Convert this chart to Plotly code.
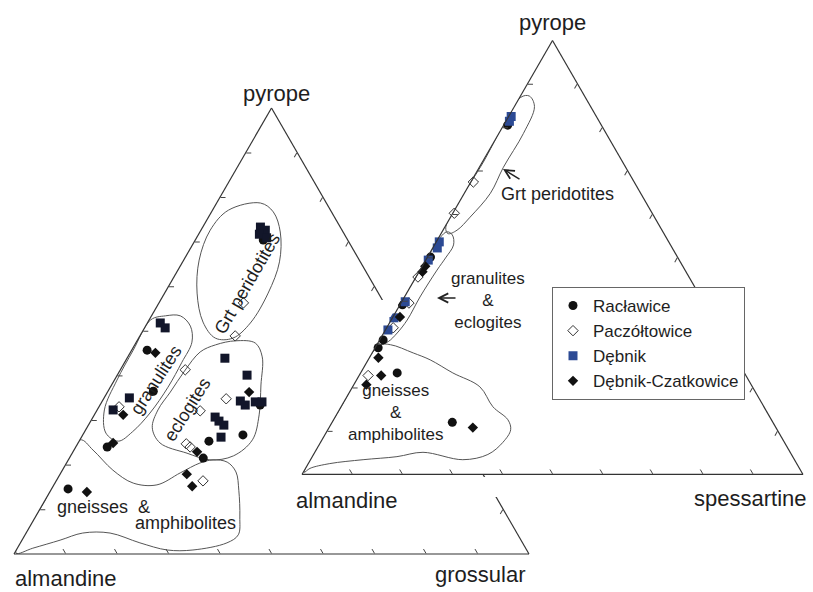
import plotly.graph_objects as go

W, H = 813, 592

# ---------------- data (mol %) ----------------
# Left diagram: pyrope (top) - almandine (left) - grossular (right)
# (only two components given; plotly completes the third from sum=100)
L_rac_prp = [70.4, 45.7, 36.5, 24.0, 25.3, 26.7, 21.5, 33.4, 14.6]
L_rac_grs = [13.2, 3.0, 8.8, 6.1, 25.2, 31.1, 26.0, 31.1, 3.2]
L_pac_prp = [56.3, 48.9, 41.3, 33.0, 34.8, 32.1, 24.0, 24.7, 16.4]
L_pac_grs = [16.4, 18.5, 12.6, 3.9, 23.8, 20.1, 22.2, 21.1, 28.5]
L_deb_prp = [73.3, 72.6, 71.7, 70.9, 51.8, 50.7, 35.0, 32.3, 43.9, 40.1, 34.3, 33.4,
             34.1, 34.1, 30.7, 29.8, 28.9, 26.2]
L_deb_grs = [11.2, 12.5, 11.8, 13.6, 2.5, 4.0, 4.9, 3.1, 19.0, 25.2, 26.8, 28.2,
             29.8, 31.1, 23.7, 24.9, 26.3, 27.1]
L_dc_prp = [45.1, 31.2, 24.9, 36.3, 22.9, 13.9, 17.9, 15.2]
L_dc_grs = [4.9, 5.6, 6.8, 27.5, 24.1, 7.2, 24.6, 27.0]

# Right diagram: pyrope (top) - almandine (left) - spessartine (right)
R_rac_prp = [80.5, 50.1, 39.1, 31.0, 29.2, 23.4, 12.0]
R_rac_sps = [0.8, 0.6, 0.5, 0.7, 0.6, 7.3, 24.0]
R_pac_prp = [67.4, 60.2, 45.5, 39.5, 33.8, 22.8]
R_pac_sps = [0.5, 0.3, 0.4, 1.6, 1.3, 1.8]
R_deb_prp = [82.5, 81.4, 53.6, 52.2, 49.4, 39.8, 36.1, 33.3]
R_deb_sps = [0.5, 0.7, 0.6, 0.9, 0.5, 0.7, 0.3, 0.5]
R_dc_prp = [46.7, 48.0, 36.3, 26.9, 22.8, 20.7, 10.8]
R_dc_sps = [0.7, 0.6, 1.4, 1.8, 4.4, 2.5, 28.7]

# Field outlines (pyrope, grossular/spessartine)
L_peri_prp = [78.7, 76.7, 72.2, 65.5, 58.5, 51.8, 48.4, 48.4, 52.0, 58.5, 65.9, 72.6, 77.1, 78.7]
L_peri_grs = [8.5, 12.0, 15.6, 18.8, 20.1, 20.0, 18.3, 14.9, 10.7, 6.3, 3.0, 1.8, 3.1, 8.5]
L_gran_prp = [52.5, 53.4, 53.4, 51.1, 47.5, 43.0, 37.4, 31.6, 27.4, 25.3, 27.1, 32.3, 39.0, 45.7, 52.5]
L_gran_grs = [0.3, 2.7, 5.6, 8.7, 10.8, 11.1, 11.2, 10.6, 9.3, 7.6, 4.3, 1.4, 0.5, 0.3, 0.3]
L_eclo_prp = [45.3, 46.9, 47.8, 47.3, 44.2, 37.9, 31.2, 25.6, 22.0, 21.1, 22.6, 24.9, 28.3,
              32.3, 36.3, 41.0, 45.3]
L_eclo_grs = [13.5, 15.7, 19.1, 23.2, 26.1, 29.0, 32.0, 33.5, 31.6, 27.5, 22.3, 15.9, 12.7,
              11.8, 12.2, 12.6, 13.5]
L_gneiss_prp = [25.6, 23.3, 18.8, 15.9, 15.5, 18.2, 20.4, 21.1, 20.6, 18.4, 14.3, 8.3, 4.3,
                2.5, 0.9, 0.9, 2.5, 4.7, 4.7, 3.1, 1.3, 0.2, 12.0, 25.6]
L_gneiss_grs = [0.0, 3.7, 9.8, 15.2, 20.0, 23.2, 25.9, 28.1, 31.1, 33.9, 36.5, 39.7, 41.4,
                40.1, 34.3, 29.3, 23.2, 16.3, 11.0, 7.4, 3.0, 0.3, 0.0, 0.0]

R_peri_prp = [86.9, 87.2, 84.8, 78.6, 70.8, 64.8, 59.3, 56.3, 55.5, 57.0, 72.0, 86.9]
R_peri_sps = [0.2, 1.8, 4.0, 4.9, 4.8, 5.2, 3.9, 2.8, 1.4, 0.2, 0.2, 0.2]
R_gran_prp = [55.9, 55.2, 52.9, 49.9, 47.1, 40.9, 35.6, 32.6, 30.6, 29.9, 30.1, 44.8, 55.9]
R_gran_sps = [0.9, 2.4, 3.8, 3.7, 3.4, 3.1, 3.2, 2.7, 1.9, 0.7, 0.0, 0.0, 0.9]
R_gneiss_prp = [29.7, 29.9, 28.0, 26.4, 23.4, 20.2, 15.6, 12.6, 10.3, 7.4, 4.6, 3.4, 5.1,
                4.1, 3.4, 2.5, 1.4, 0.5, 15.0, 29.7]
R_gneiss_sps = [0.6, 2.7, 8.2, 12.4, 18.4, 25.4, 30.3, 34.8, 36.5, 36.4, 34.8, 30.4, 21.6,
                16.9, 10.5, 4.3, 0.9, 0.2, 0.0, 0.6]

SERIES = ["Racławice", "Paczółtowice", "Dębnik", "Dębnik-Czatkowice"]

# ---------------- styling ----------------
FONT = "Liberation Sans, Arial, sans-serif"
TXT = "#1e1e1e"
BLUE = "#2c4a94"


def px(x):
    return x / W


def py(y):
    return 1 - y / H


def marker_style(name, side):
    if name == "Racławice":
        return dict(symbol="circle", size=9, color="#111111")
    if name == "Paczółtowice":
        return dict(symbol="diamond-open", size=8, color="#333333", line=dict(width=1))
    if name == "Dębnik":
        return dict(symbol="square", size=9, color=(BLUE if side == "R" else "#12162a"))
    return dict(symbol="diamond", size=8, color="#111111")


fig = go.Figure()

outline = dict(color="#555555", width=1, shape="spline", smoothing=1)
for prp, oth in [(L_peri_prp, L_peri_grs), (L_gran_prp, L_gran_grs),
                 (L_eclo_prp, L_eclo_grs), (L_gneiss_prp, L_gneiss_grs)]:
    fig.add_trace(go.Scatterternary(a=prp, c=oth, mode="lines", line=outline,
                                    subplot="ternary", showlegend=False, hoverinfo="skip"))
for prp, oth in [(R_peri_prp, R_peri_sps), (R_gran_prp, R_gran_sps),
                 (R_gneiss_prp, R_gneiss_sps)]:
    fig.add_trace(go.Scatterternary(a=prp, c=oth, mode="lines", line=outline,
                                    subplot="ternary2", showlegend=False, hoverinfo="skip"))

left_sets = [(L_rac_prp, L_rac_grs), (L_pac_prp, L_pac_grs), (L_deb_prp, L_deb_grs), (L_dc_prp, L_dc_grs)]
right_sets = [(R_rac_prp, R_rac_sps), (R_pac_prp, R_pac_sps), (R_deb_prp, R_deb_sps), (R_dc_prp, R_dc_sps)]
for name, (prp, oth) in zip(SERIES, left_sets):
    fig.add_trace(go.Scatterternary(a=prp, c=oth, mode="markers", name=name, legendgroup=name,
                                    marker=marker_style(name, "L"), subplot="ternary",
                                    showlegend=False, cliponaxis=False))
for name, (prp, oth) in zip(SERIES, right_sets):
    fig.add_trace(go.Scatterternary(a=prp, c=oth, mode="markers", name=name, legendgroup=name,
                                    marker=marker_style(name, "R"), subplot="ternary2",
                                    showlegend=True, cliponaxis=False))

axis = dict(showgrid=False, showticklabels=False, ticks="inside", ticklen=5, tickwidth=1,
            tickcolor="#444444", tick0=0, dtick=10, linecolor="#333333", linewidth=1.2,
            showline=True, min=0, title=dict(text=""))


def tern(x0, y0, x1, y1):
    return dict(domain=dict(x=[px(x0), px(x1)], y=[py(y1), py(y0)]), sum=100,
                bgcolor="white", aaxis=axis, baxis=axis, caxis=axis)


ann = []


def label(text, x, y, size=18, angle=0, xanchor="center"):
    ann.append(dict(text=text, x=px(x), y=py(y), xref="paper", yref="paper", showarrow=False,
                    font=dict(family=FONT, size=size, color=TXT), textangle=angle,
                    xanchor=xanchor, yanchor="middle", align="center"))


def arrow(hx, hy, tx, ty):
    ann.append(dict(text="", x=px(hx), y=py(hy), xref="paper", yref="paper", showarrow=True,
                    ax=tx - hx, ay=ty - hy, arrowhead=5, arrowsize=1.3, arrowwidth=1.4,
                    arrowcolor="#222222"))


# vertex labels
label("pyrope", 276, 93, 22)
label("almandine", 66, 578, 22)
label("grossular", 480, 574, 22)
label("pyrope", 552, 22, 22)
label("almandine", 347, 500, 22)
label("spessartine", 750, 498, 22)

# field labels, left
label("Grt peridotites", 247, 284, 18, -60)
label("granulites", 156, 380, 18, -57)
label("eclogites", 187, 410, 18, -58)
label("gneisses  &", 55, 507, 18, 0, "left")
label("amphibolites", 133, 523, 18, 0, "left")
# field labels, right
label("Grt peridotites", 499, 194, 18, 0, "left")
label("granulites<br>&<br>eclogites", 488, 300, 17)
label("gneisses<br>&<br>amphibolites", 395, 412, 17)
arrow(503, 169, 521, 180)
arrow(437, 298, 457, 298)


def poly(points):
    return "M " + " L ".join(f"{px(x):.5f},{py(y):.5f}" for x, y in points) + " Z"


shapes = [
    dict(type="path", xref="paper", yref="paper", layer="above", fillcolor="white",
         line=dict(width=0), path=poly([(378, 300), (401, 300), (390.5, 317), (378, 317)])),
    dict(type="path", xref="paper", yref="paper", layer="above", fillcolor="white",
         line=dict(width=0), path=poly([(476, 477), (499, 477), (499, 497), (476, 497)])),
]

fig.update_layout(
    width=W, height=H, autosize=False,
    margin=dict(l=0, r=0, t=0, b=0),
    paper_bgcolor="white", plot_bgcolor="white",
    ternary=tern(14, 108, 529, 554),
    ternary2=tern(302, 40, 803, 475),
    annotations=ann, shapes=shapes,
    legend=dict(x=px(552), y=py(287), xanchor="left", yanchor="top", bgcolor="white",
                bordercolor="#666666", borderwidth=1,
                font=dict(family=FONT, size=17, color=TXT), tracegroupgap=0),
    font=dict(family=FONT, color=TXT),
)

fig.write_html("out.html")
